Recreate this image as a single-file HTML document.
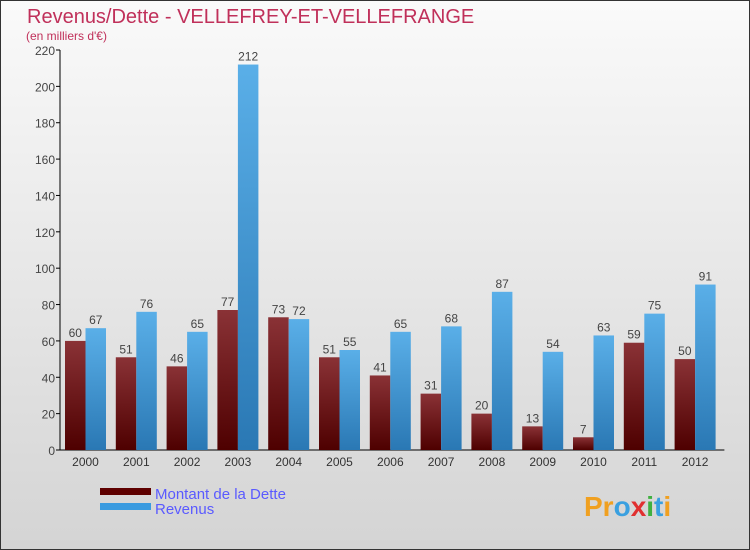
<!DOCTYPE html>
<html><head><meta charset="utf-8"><style>
body{margin:0}
#c{width:750px;height:550px;position:relative;overflow:hidden;font-family:"Liberation Sans",sans-serif;}
</style></head><body>
<div id="c">
<svg width="750" height="550" xmlns="http://www.w3.org/2000/svg">
<defs>
<linearGradient id="bg" x1="0" y1="0" x2="0" y2="1"><stop offset="0" stop-color="#fafafa"/><stop offset="1" stop-color="#d4d4d4"/></linearGradient>
<linearGradient id="gd" x1="0" y1="0" x2="0" y2="1"><stop offset="0" stop-color="#8a3236"/><stop offset="1" stop-color="#4e0000"/></linearGradient>
<linearGradient id="gr" x1="0" y1="0" x2="0" y2="1"><stop offset="0" stop-color="#5aafe8"/><stop offset="1" stop-color="#2a78b4"/></linearGradient>
</defs>
<rect x="0.5" y="0.5" width="749" height="549" fill="url(#bg)" stroke="#333"/>
<text x="27" y="23" font-size="20" fill="#c0305a">Revenus/Dette - VELLEFREY-ET-VELLEFRANGE</text>
<text x="26" y="40" font-size="12" fill="#c0305a">(en milliers d'€)</text>
<g id="axes"></g>
<g id="bars"></g>
<rect x="100" y="488" width="51" height="7" fill="#5e0000"/>
<rect x="100" y="503" width="51" height="7" fill="#3a9be0"/>
<text x="155" y="499" font-size="15" fill="#5a5aff">Montant de la Dette</text>
<text x="155" y="514" font-size="15" fill="#5a5aff">Revenus</text>
<text x="584" y="516" font-size="28" font-weight="bold"><tspan fill="#f0a020">Pr</tspan><tspan fill="#3aa0e0">o</tspan><tspan fill="#e03030">x</tspan><tspan fill="#40b040">i</tspan><tspan fill="#3aa0e0">t</tspan><tspan fill="#f0a020">i</tspan></text>
</svg>
</div>
<script>
const years=["2000","2001","2002","2003","2004","2005","2006","2007","2008","2009","2010","2011","2012"];
const dette=[60,51,46,77,73,51,41,31,20,13,7,59,50];
const revenus=[67,76,65,212,72,55,65,68,87,54,63,75,91];
const yTicks=[0,20,40,60,80,100,120,140,160,180,200,220];
const NS="http://www.w3.org/2000/svg";
const y0=450,yTop=50,x0=60,gw=50.8,bw=20.5;
function ys(v){return y0-(v/220)*(y0-yTop);}
function xs(i){return x0+5+i*gw;}
function mk(t,a,p){const e=document.createElementNS(NS,t);for(const k in a)e.setAttribute(k,a[k]);p.appendChild(e);return e;}
const ax=document.getElementById('axes'),bg=document.getElementById('bars');
const yl=mk('line',{x1:x0,y1:y0,x2:x0,y2:yTop,stroke:'#000'},ax);


const xl=mk('line',{x1:x0,y1:y0,x2:x0+13*gw+4,y2:y0,stroke:'#000'},ax);


yTicks.forEach(v=>{
 mk('line',{x1:x0-4,x2:x0,y1:ys(v),y2:ys(v),stroke:'#000'},ax);
 const t=mk('text',{x:x0-5,y:ys(v)+5,'text-anchor':'end','font-size':12,fill:'#444'},ax);
 t.textContent=v;
 
 
});
years.forEach((yr,i)=>{
 const x=xs(i);
 const t=mk('text',{x:x+bw,y:y0+16,'text-anchor':'middle','font-size':12,fill:'#333'},ax);
 t.textContent=yr;
 
 
 [[dette[i],'url(#gd)',x,'dette'],[revenus[i],'url(#gr)',x+bw,'revenus']].forEach(([v,f,bx,n])=>{
  const r=mk('rect',{x:bx,y:ys(v),width:bw,height:y0-ys(v),fill:f},bg);
  
  
  const l=mk('text',{x:bx+bw/2,y:ys(v)-4,'text-anchor':'middle','font-size':12,fill:'#444'},bg);
  l.textContent=v;
  
  
 });
});
</script>
</body></html>
